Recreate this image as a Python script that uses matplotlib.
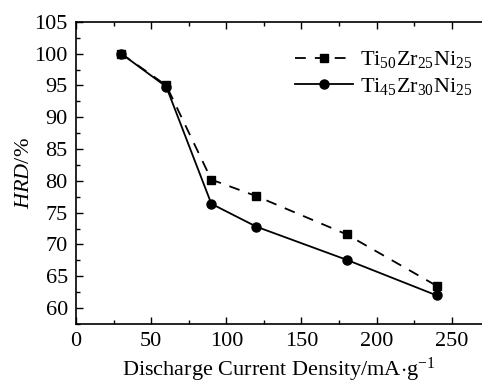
import matplotlib
matplotlib.use("Agg")
import matplotlib.pyplot as plt
from matplotlib.ticker import MultipleLocator

plt.rcParams['font.family'] = ['Liberation Serif', 'DejaVu Serif']
plt.rcParams['mathtext.fontset'] = 'custom'
plt.rcParams['mathtext.rm'] = 'Liberation Serif'
plt.rcParams['mathtext.it'] = 'Liberation Serif:italic'

# Data
current = [30, 60, 90, 120, 180, 240]
hrd_ti50 = [100, 95.0, 80.2, 77.6, 71.6, 63.5]
hrd_ti45 = [100, 94.8, 76.4, 72.8, 67.6, 62.0]
label_ti50 = r"$\mathrm{Ti_{50}Zr_{25}Ni_{25}}$"
label_ti45 = r"$\mathrm{Ti_{45}Zr_{30}Ni_{25}}$"

fig = plt.figure(figsize=(4.82, 3.83), dpi=100)
# axes run slightly past the right edge: the source image is cropped there
ax = fig.add_axes([0.158, 0.154, 0.857, 0.789])

ax.plot(current, hrd_ti50, 'k--s', lw=1.3, ms=6, dashes=(6, 5), label=label_ti50)
ax.plot(current, hrd_ti45, 'k-o', lw=1.3, ms=6.5, label=label_ti45)

ax.set_xlim(0, 275)
ax.set_ylim(57.5, 105)
ax.xaxis.set_major_locator(MultipleLocator(50))
ax.xaxis.set_minor_locator(MultipleLocator(25))
ax.yaxis.set_major_locator(MultipleLocator(5))
ax.yaxis.set_minor_locator(MultipleLocator(2.5))
ax.tick_params(which='both', direction='in', top=True, right=True, labelsize=16, width=1)
ax.tick_params(which='major', length=5)
ax.tick_params(which='minor', length=3)
ax.tick_params(axis='x', pad=6)
ax.tick_params(axis='y', pad=6)
for s in ax.spines.values():
    s.set_linewidth(1.2)

ax.set_xlabel(r"Discharge Current Density/mA$\cdot$g$^{\mathrm{-1}}$", fontsize=16, labelpad=3)
ax.xaxis.label.set_x(0.49)
ax.set_ylabel(r"$HRD$/%", fontsize=16, labelpad=0)

ax.legend(loc='upper right', frameon=False, fontsize=16, handlelength=2.6,
          handletextpad=0.3, labelspacing=0.25, borderaxespad=0.3,
          bbox_to_anchor=(0.997, 0.96))

fig.savefig("out.png", dpi=100)
